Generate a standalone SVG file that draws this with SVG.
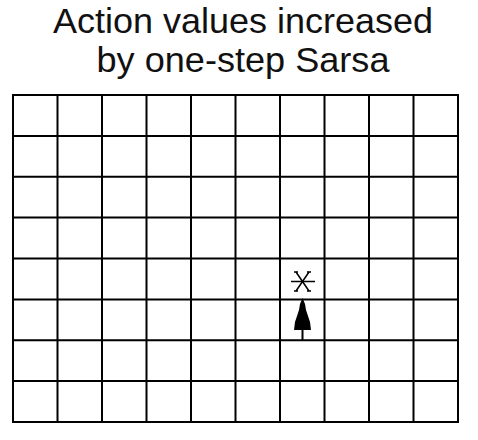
<svg xmlns="http://www.w3.org/2000/svg" width="478" height="440" viewBox="0 0 478 440">
<style>
.t{font-family:"Liberation Sans",Arial,sans-serif;font-size:35px;fill:#111;text-anchor:middle}
.g{stroke:#000;stroke-width:2;fill:none}
</style>
<rect width="478" height="440" fill="#fff"/>
<g id="title">
<text class="t" x="243" y="33" textLength="380" lengthAdjust="spacingAndGlyphs">Action values increased</text>
<text class="t" x="243" y="72" textLength="293" lengthAdjust="spacingAndGlyphs">by one-step Sarsa</text>
</g>
<g id="grid" class="g">
<rect x="13" y="95" width="445" height="327"/>
<path d="M57.5 95V422M102 95V422M146.5 95V422M191 95V422M235.5 95V422M280 95V422M324.5 95V422M369 95V422M413.5 95V422"/>
<path d="M13 135.9H458M13 176.75H458M13 217.6H458M13 258.5H458M13 299.4H458M13 340.25H458M13 381.1H458"/>
</g>
<g id="goal" stroke="#000" stroke-width="1.5" fill="none">
<path d="M291 281.5H315"/>
<path d="M296 272L309 291M309 272L296 291"/>
<path d="M294 272H298M307 272H311M294 291H298M307 291H311"/>
</g>
<g id="connectors">
<line x1="302.5" y1="340" x2="302.5" y2="320" stroke="#000" stroke-width="2"/>
<polygon points="302.5,298 305,304 306,310 308,316 310,322 311,330 294,330 295,322 297,316 299,310 300,304" fill="#000"/>
</g>
</svg>
